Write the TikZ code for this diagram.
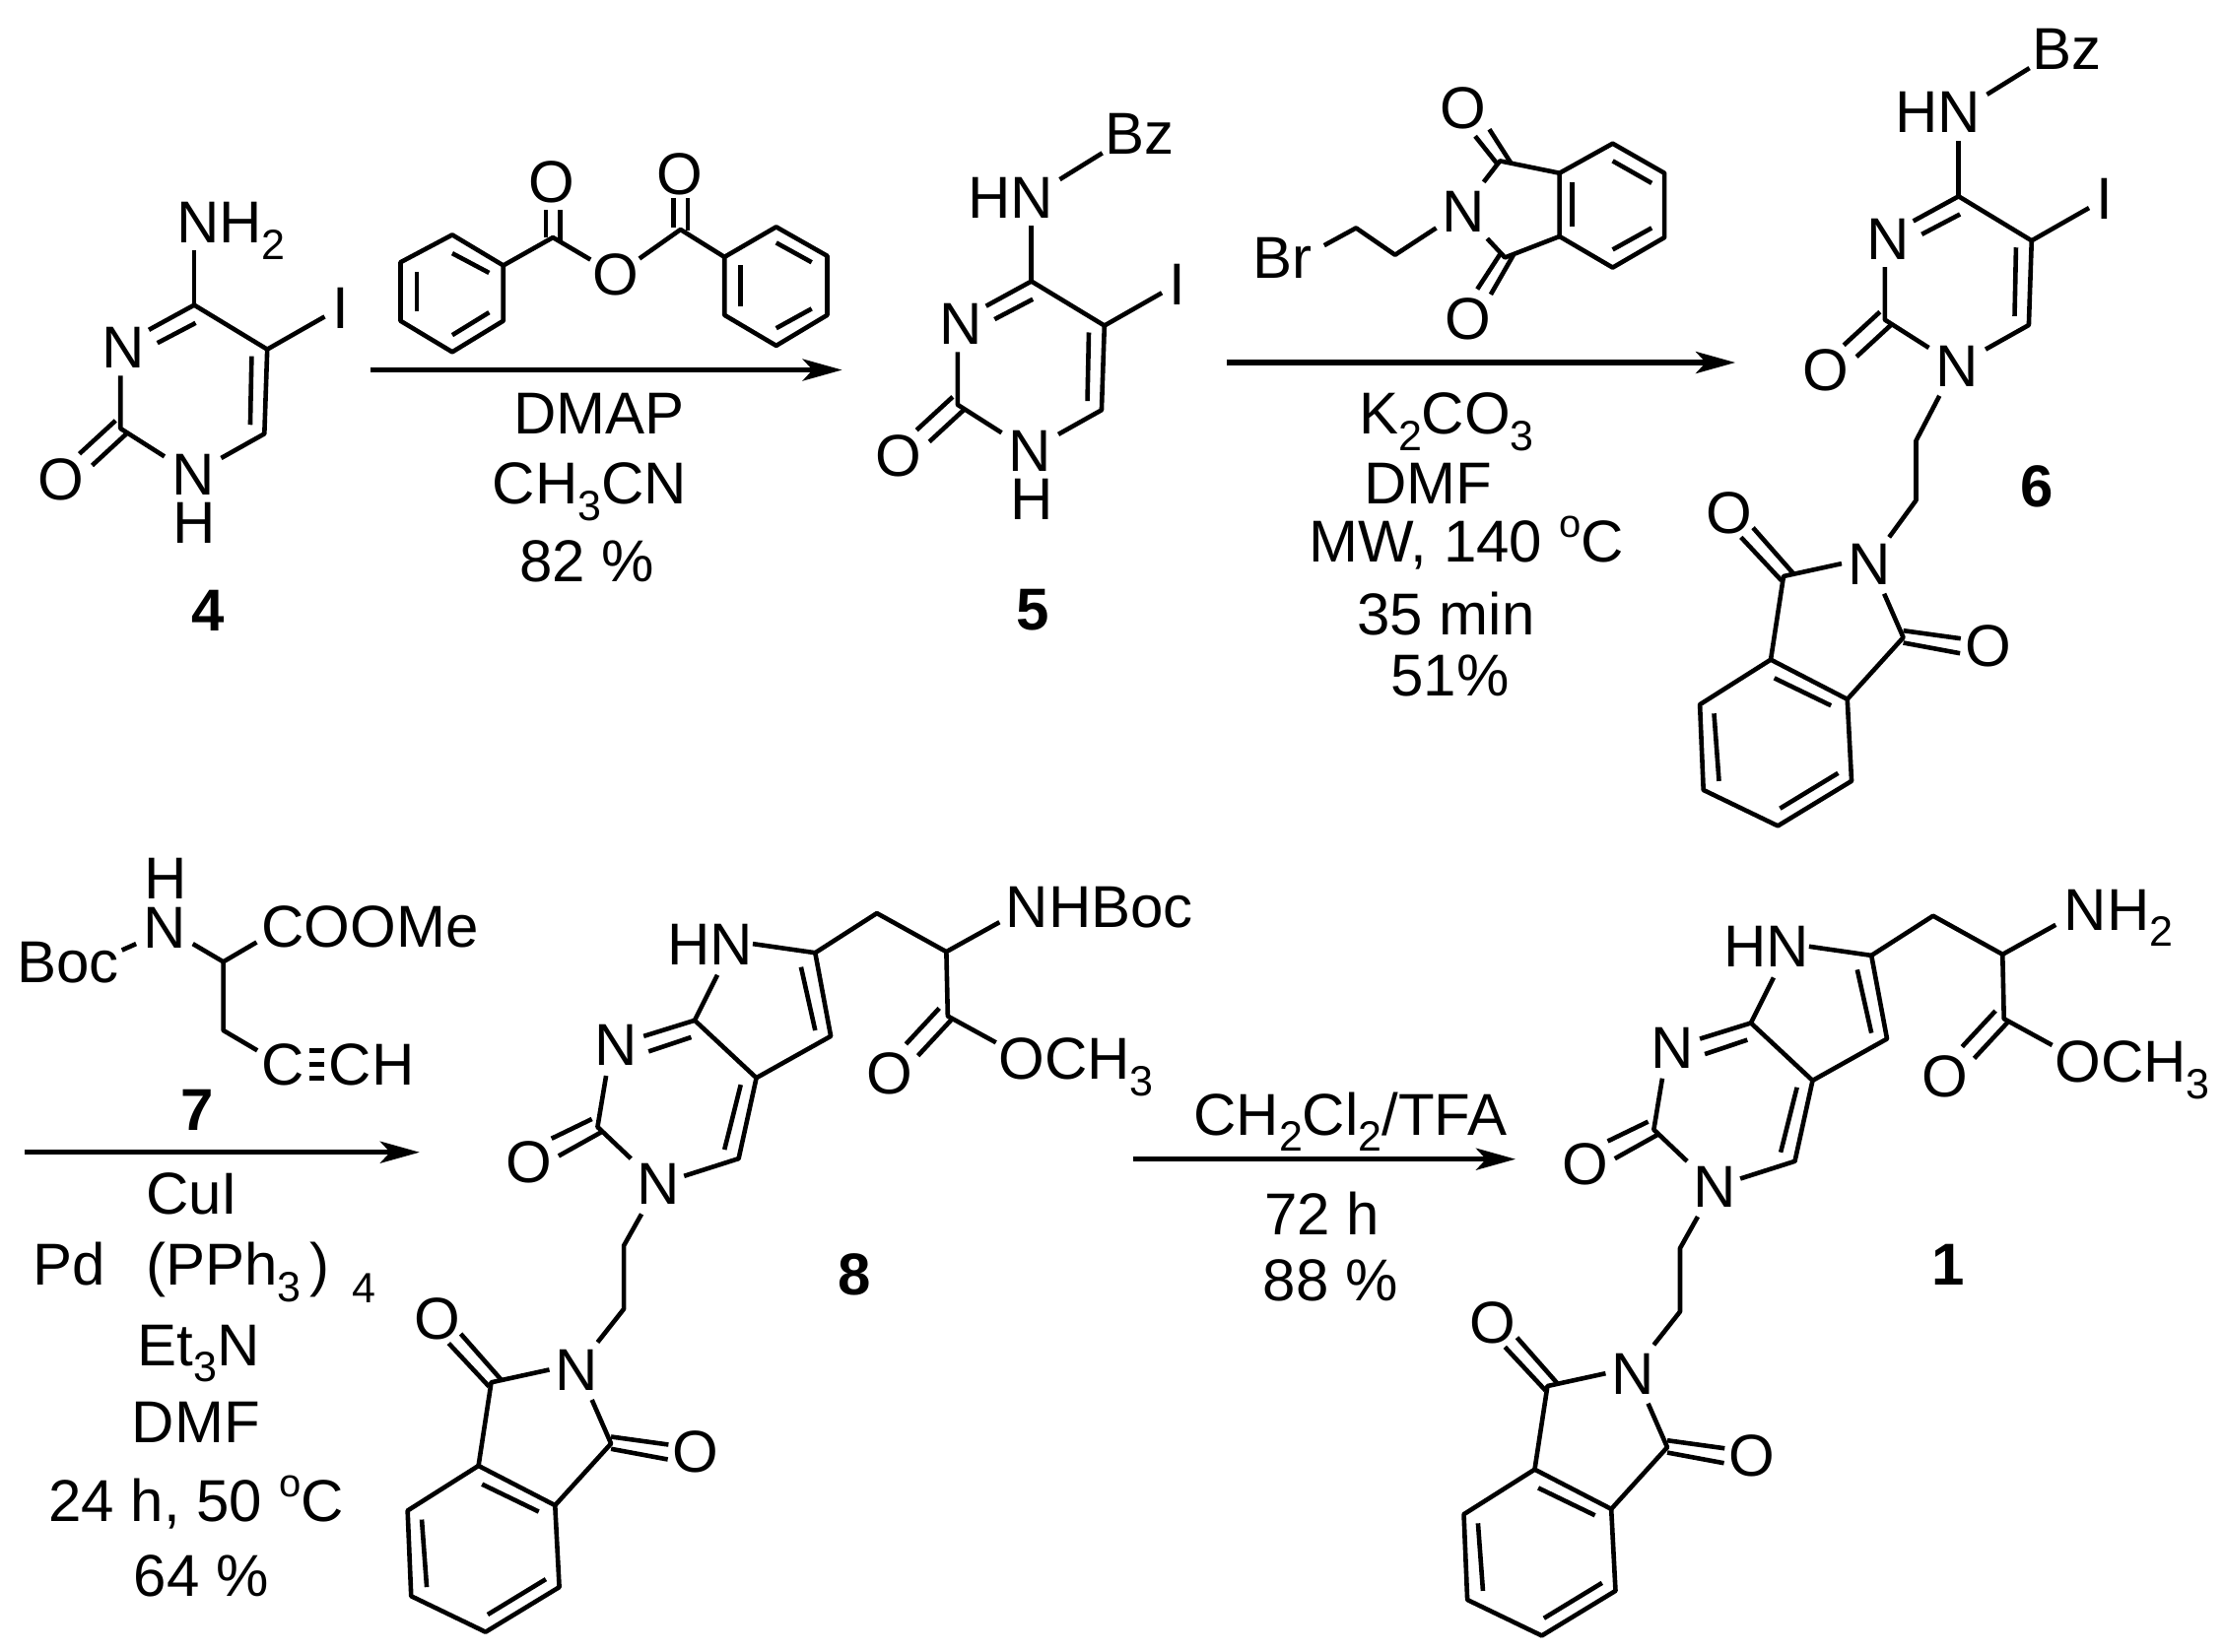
\documentclass[tikz,border=0pt]{standalone}
\usepackage{fontspec}
\setmainfont{Liberation Sans}
\usetikzlibrary{arrows.meta}
\newcommand\sbs[1]{\raisebox{-0.28em}{\fontsize{21.5pt}{22pt}\selectfont #1}}
\newcommand\sps[1]{\raisebox{0.42em}{\fontsize{20pt}{21pt}\selectfont #1}}
\tikzset{
  bond/.style={line width=2.3pt,line join=round},
  rxn/.style={line width=2.6pt,-{Stealth[length=20pt,width=11pt,inset=5pt]}},
  lab/.style={inner sep=0pt,outer sep=0pt,anchor=base west,xshift=-2.2pt,font=\fontsize{30pt}{31pt}\selectfont},
  ctr/.style={inner sep=0pt,outer sep=0pt,anchor=base,font=\fontsize{30pt}{31pt}\selectfont},
  cmpd/.style={inner sep=0pt,outer sep=0pt,anchor=base,font=\fontsize{30pt}{31pt}\selectfont\bfseries},
}
% pyrimidinone ring, coordinates of compound 4
\newcommand\pyrone{
  \draw[bond] (274,578)--(377,662)--(373,822)--(312,868);
  \draw[bond] (232,865)--(170,812)--(170,712);
  \draw[bond] (210,625)--(274,578);
  \draw[bond] (222,650)--(276,612);
  \draw[bond] (355,675)--(353,805);
  \draw[bond] (377,662)--(458,600);
  \draw[bond] (163,797)--(112,860);
  \draw[bond] (180,820)--(130,882);
  \node[lab] (n3) at (150,697) {N};
  \node[lab] (o2) at (60,947) {O};
  \node[lab] (n1) at (248,938) {N};
  \node[lab] (i5) at (475,622) {I};
}
% N-benzoyl amine on C4
\newcommand\nhbz{
  \draw[bond] (274,578)--(274,473);
  \draw[bond] (314,385)--(374,335);
  \node[lab] (hn) at (191,458) {HN};
  \node[lab] (bz) at (384,338) {Bz};
}
% phthalimide, coordinates of the one in compound 6
\newcommand\phth{
  \draw[bond] (1030,1068)--(948,1092)--(930,1250)--(1038,1325)--(1117,1208)--(1090,1125);
  \draw[bond] (905,1000)--(962,1087);
  \draw[bond] (888,1018)--(945,1100);
  \draw[bond] (1117,1195)--(1198,1210);
  \draw[bond] (1117,1218)--(1197,1238);
  \draw[bond] (930,1250)--(830,1335)--(835,1497)--(940,1565)--(1044,1480)--(1038,1325);
  \draw[bond] (935,1285)--(1015,1337);
  \draw[bond] (850,1352)--(857,1480);
  \draw[bond] (943,1532)--(1025,1465);
  \node[lab] (ni) at (1045,1108) {N};
  \node[lab] (oa) at (845,1010) {O};
  \node[lab] (ob) at (1210,1263) {O};
}
% pyrrolopyrimidinone with ester side chain, coordinates of compound 8
\newcommand\core{
  \draw[bond] (1062,228)--(1150,245)--(1172,403)--(1067,482)--(980,373)--(1012,287);
  \draw[bond] (1130,272)--(1150,392);
  \draw[bond] (908,403)--(980,373);
  \draw[bond] (915,432)--(975,405);
  \draw[bond] (1067,482)--(1042,635)--(965,668);
  \draw[bond] (1045,495)--(1022,618);
  \draw[bond] (890,635)--(843,575)--(855,478);
  \draw[bond] (835,560)--(778,597);
  \draw[bond] (848,585)--(788,630);
  \draw[bond] (1150,245)--(1237,170)--(1335,243)--(1410,187);
  \draw[bond] (1335,243)--(1337,365)--(1405,415);
  \draw[bond] (1325,350)--(1278,418);
  \draw[bond] (1342,372)--(1295,440);
  \draw[bond] (905,740)--(880,800)--(880,920)--(843,983);
  \node[lab] (hn) at (948,267) {HN};
  \node[lab] (n3) at (845,458) {N};
  \node[lab] (o2) at (720,680) {O};
  \node[lab] (n1) at (905,722) {N};
  \node[lab] (oe) at (1228,513) {O};
  \node[lab] (ome) at (1415,485) {OCH\sbs{3}};
}
\begin{document}
\begin{tikzpicture}[x=0.3597pt,y=-0.26786pt]
\useasboundingbox (0,0) rectangle (3136,3129);
\fill[white] (0,0) rectangle (3136,3129);

% ---------- compound 4
\begin{scope}[name prefix=m4-]
  \pyrone
  \draw[bond] (274,578)--(274,475);
  \node[lab] (nh) at (255,460) {NH\sbs{2}};
  \node[lab] (h) at (250,1030) {H};
  \node[cmpd] (lbl) at (293,1195) {4};
\end{scope}

% ---------- benzoic anhydride
\begin{scope}[name prefix=r1-]
  \draw[bond] (638,445)--(710,503)--(710,608)--(638,667)--(565,608)--(565,497)--cycle;
  \draw[bond] (638,480)--(690,517);
  \draw[bond] (588,515)--(588,590);
  \draw[bond] (638,635)--(690,592);
  \draw[bond] (710,503)--(780,450)--(833,492);
  \draw[bond] (770,398)--(770,449);
  \draw[bond] (790,398)--(790,458);
  \draw[bond] (902,490)--(960,435)--(1022,487);
  \draw[bond] (950,375)--(950,432);
  \draw[bond] (970,375)--(970,437);
  \draw[bond] (1095,430)--(1167,485)--(1167,597)--(1095,655)--(1022,597)--(1022,487)--cycle;
  \draw[bond] (1095,460)--(1145,497);
  \draw[bond] (1045,503)--(1045,580);
  \draw[bond] (1095,622)--(1145,585);
  \node[lab] (oa) at (752,383) {O};
  \node[lab] (ob) at (932,368) {O};
  \node[lab] (oc) at (842,560) {O};
\end{scope}
\coordinate (a1s) at (522,701);
\coordinate (a1e) at (1188,701);
\draw[rxn] (a1s)--(a1e);
\node[ctr] (t1a) at (845,822) {DMAP};
\node[ctr] (t1b) at (832,955) {CH\sbs{3}CN};
\node[ctr] (t1c) at (828,1103) {82 \%};

% ---------- compound 5
\begin{scope}[shift={(1181,-45)},name prefix=m5-]
  \pyrone
  \nhbz
  \node[lab] (h) at (250,1030) {H};
\end{scope}
\node[cmpd] (lbl5) at (1457,1193) {5};

% ---------- top right block
\begin{scope}[shift={(1568,0)}]
  \begin{scope}[name prefix=r2-]
    \draw[bond] (300,465)--(345,432)--(400,483)--(458,432);
    \draw[bond] (525,345)--(548,305)--(632,328)--(632,448)--(555,488)--(530,452);
    \draw[bond] (513,258)--(545,312);
    \draw[bond] (533,245)--(563,308);
    \draw[bond] (516,548)--(548,482);
    \draw[bond] (535,558)--(567,483);
    \draw[bond] (632,328)--(707,272)--(780,328)--(780,450)--(707,507)--(632,448);
    \draw[bond] (650,345)--(650,430);
    \draw[bond] (707,305)--(762,347);
    \draw[bond] (707,473)--(762,432);
    \node[lab] (n) at (472,440) {N};
    \node[lab] (oa) at (470,243) {O};
    \node[lab] (ob) at (477,643) {O};
    \node[lab] (br) at (205,528) {Br};
  \end{scope}
  \coordinate (a2s) at (163,687);
  \coordinate (a2e) at (880,687);
  \draw[rxn] (a2s)--(a2e);
  \node[lab] (t2a) at (355,822) {K\sbs{2}CO\sbs{3}};
  \node[lab] (t2b) at (362,955) {DMF};
  \node[lab] (t2c) at (285,1065) {MW, 140 \sps{o}C};
  \node[lab] (t2d) at (353,1203) {35 min};
  \node[lab] (t2e) at (400,1318) {51\%};
  \node[cmpd] (lbl6) at (1306,960) {6};
  \draw[bond] (1168,750)--(1135,835)--(1135,948)--(1097,1018);
\end{scope}

% ---------- compound 6
\begin{scope}[shift={(2489,-206)},name prefix=m6-]
  \pyrone
  \nhbz
\end{scope}
\begin{scope}[shift={(1568,0)},name prefix=p6-]
  \phth
\end{scope}

% ---------- bottom left
\begin{scope}[shift={(0,1560.5)}]
  \begin{scope}[name prefix=r7-]
    \draw[bond] (172,240)--(192,228);
    \draw[bond] (272,228)--(315,262)--(362,225);
    \draw[bond] (315,262)--(315,392)--(363,430);
    \draw[bond] (437,430)--(458,430);
    \draw[bond] (437,457)--(458,457);
    \draw[bond] (437,483)--(458,483);
    \node[lab] (h) at (210,142) {H};
    \node[lab] (n) at (208,237) {N};
    \node[lab] (boc) at (30,302) {Boc};
    \node[lab] (cooo) at (375,235) {COOMe};
    \node[lab] (c) at (375,495) {C};
    \node[lab] (ch) at (470,495) {CH};
    \node[cmpd] (lbl) at (278,582) {7};
  \end{scope}
  \coordinate (a3s) at (35,623);
  \coordinate (a3e) at (592,623);
  \draw[rxn] (a3s)--(a3e);
  \node[lab] (t3a) at (212,740) {CuI};
  \node[lab] (t3b) at (52,875) {Pd};
  \node[lab] (t3c) at (212,875) {(PPh\sbs{3}};
  \node[lab] (t3d) at (443,875) {)};
  \node[lab] (t3e) at (503,908) {\fontsize{21.5pt}{22pt}\selectfont 4};
  \node[lab] (t3f) at (200,1027) {Et\sbs{3}N};
  \node[lab] (t3g) at (192,1173) {DMF};
  \node[lab] (t3h) at (75,1323) {24 h, 50 \sps{o}C};
  \node[lab] (t3i) at (195,1465) {64 \%};
  \node[cmpd] (lbl8) at (1205,893) {8};
  \begin{scope}[name prefix=m8-]
    \core
    \node[lab] (nh) at (1425,197) {NHBoc};
  \end{scope}
  \begin{scope}[shift={(1490,5)},name prefix=m1-]
    \core
    \node[lab] (nh) at (1428,197) {NH\sbs{2}};
  \end{scope}
\end{scope}
\begin{scope}[shift={(-255,1527.5)},name prefix=p8-]
  \phth
\end{scope}
\begin{scope}[shift={(1235,1534.5)},name prefix=p1-]
  \phth
\end{scope}

% ---------- bottom right arrow
\begin{scope}[shift={(1568,1560.5)}]
  \coordinate (a4s) at (30,636);
  \coordinate (a4e) at (570,636);
  \draw[rxn] (a4s)--(a4e);
  \node[lab] (t4a) at (122,590) {CH\sbs{2}Cl\sbs{2}/TFA};
  \node[lab] (t4b) at (222,780) {72 h};
  \node[lab] (t4c) at (220,905) {88 \%};
  \node[cmpd] (lbl1) at (1180,875) {1};
\end{scope}
\end{tikzpicture}
\end{document}
